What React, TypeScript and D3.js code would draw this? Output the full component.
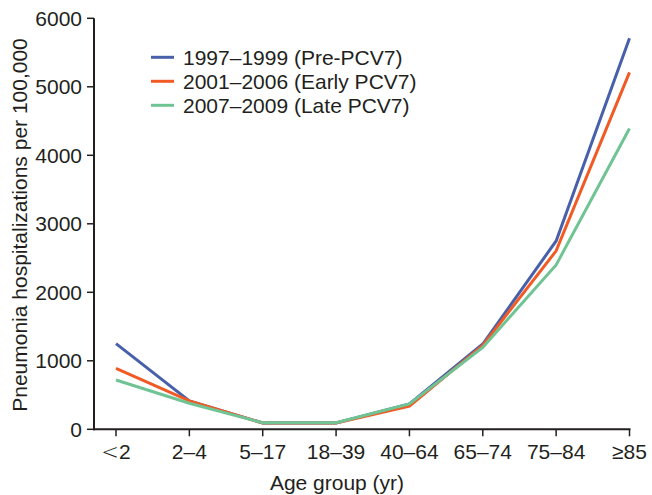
import React from "react";
import * as d3 from "d3";

const categories = ["<2", "2–4", "5–17", "18–39", "40–64", "65–74", "75–84", "≥85"];
const seriesNames = ["1997–1999 (Pre-PCV7)", "2001–2006 (Early PCV7)", "2007–2009 (Late PCV7)"];
const prePCV7 = [1250, 415, 92, 92, 370, 1245, 2750, 5710];
const earlyPCV7 = [890, 415, 92, 92, 340, 1225, 2605, 5210];
const latePCV7 = [720, 380, 95, 95, 370, 1195, 2400, 4390];
const yTicks = [0, 1000, 2000, 3000, 4000, 5000, 6000];
const colors = ["#4860aa", "#f15a24", "#70c494"];

const FONT = "'Liberation Sans', Arial, Helvetica, sans-serif";
const INK = "#231f20";

function CatLabel({ c }: { c: string }) {
  const first = c.charAt(0);
  if (first === "<" || first === "≥") {
    return (
      <>
        <tspan fontFamily="'DejaVu Sans', sans-serif" fontWeight={200}>
          {first}
        </tspan>
        <tspan>{c.slice(1)}</tspan>
      </>
    );
  }
  return <>{c}</>;
}

export default function App() {
  const W = 652, H = 495;
  const axisX = 94, axisY = 429.3;
  const x = d3.scalePoint<string>().domain(categories).range([116, 629.5]);
  const y = d3.scaleLinear().domain([0, 6000]).range([axisY, 18.3]);
  const line = d3
    .line<number>()
    .x((_, i) => x(categories[i]) as number)
    .y((d) => y(d));
  const series = [prePCV7, earlyPCV7, latePCV7];
  const fs = 21;

  return (
    <svg
      width={W}
      height={H}
      style={{ position: "absolute", left: 0, top: 0, background: "#fff" }}
      fontFamily={FONT}
    >
      {series.map((s, k) => (
        <path
          key={k}
          d={line(s) || ""}
          fill="none"
          stroke={colors[k]}
          strokeWidth={3}
          strokeLinejoin="miter"
        />
      ))}
      <line x1={axisX} x2={axisX} y1={y(6000)} y2={axisY + 1} stroke={INK} strokeWidth={2} />
      {yTicks.map((t) => (
        <g key={t}>
          <line x1={axisX - 7} x2={axisX} y1={y(t)} y2={y(t)} stroke={INK} strokeWidth={1.5} />
          <text x={axisX - 12} y={y(t)} dy="0.36em" textAnchor="end" fontSize={fs} fill={INK}>
            {t}
          </text>
        </g>
      ))}
      <line
        x1={axisX - 1}
        x2={(x(categories[categories.length - 1]) as number) + 1}
        y1={axisY}
        y2={axisY}
        stroke={INK}
        strokeWidth={2}
      />
      {categories.map((c) => (
        <g key={c}>
          <line x1={x(c)} x2={x(c)} y1={axisY} y2={axisY + 7} stroke={INK} strokeWidth={1.5} />
          <text x={x(c)} y={459} textAnchor="middle" fontSize={fs} fill={INK}>
            <CatLabel c={c} />
          </text>
        </g>
      ))}
      <text x={337} y={490} textAnchor="middle" fontSize={fs} fill={INK}>
        Age group (yr)
      </text>
      <text transform={`translate(27,225) rotate(-90)`} textAnchor="middle" fontSize={fs} fill={INK}>
        Pneumonia hospitalizations per 100,000
      </text>
      {seriesNames.map((n, k) => (
        <g key={n} transform={`translate(0, ${57.3 + k * 24})`}>
          <line x1={151} x2={174} y1={0} y2={0} stroke={colors[k]} strokeWidth={3} />
          <text x={183} y={0} dy="0.36em" fontSize={fs} fill={INK}>
            {n}
          </text>
        </g>
      ))}
    </svg>
  );
}
